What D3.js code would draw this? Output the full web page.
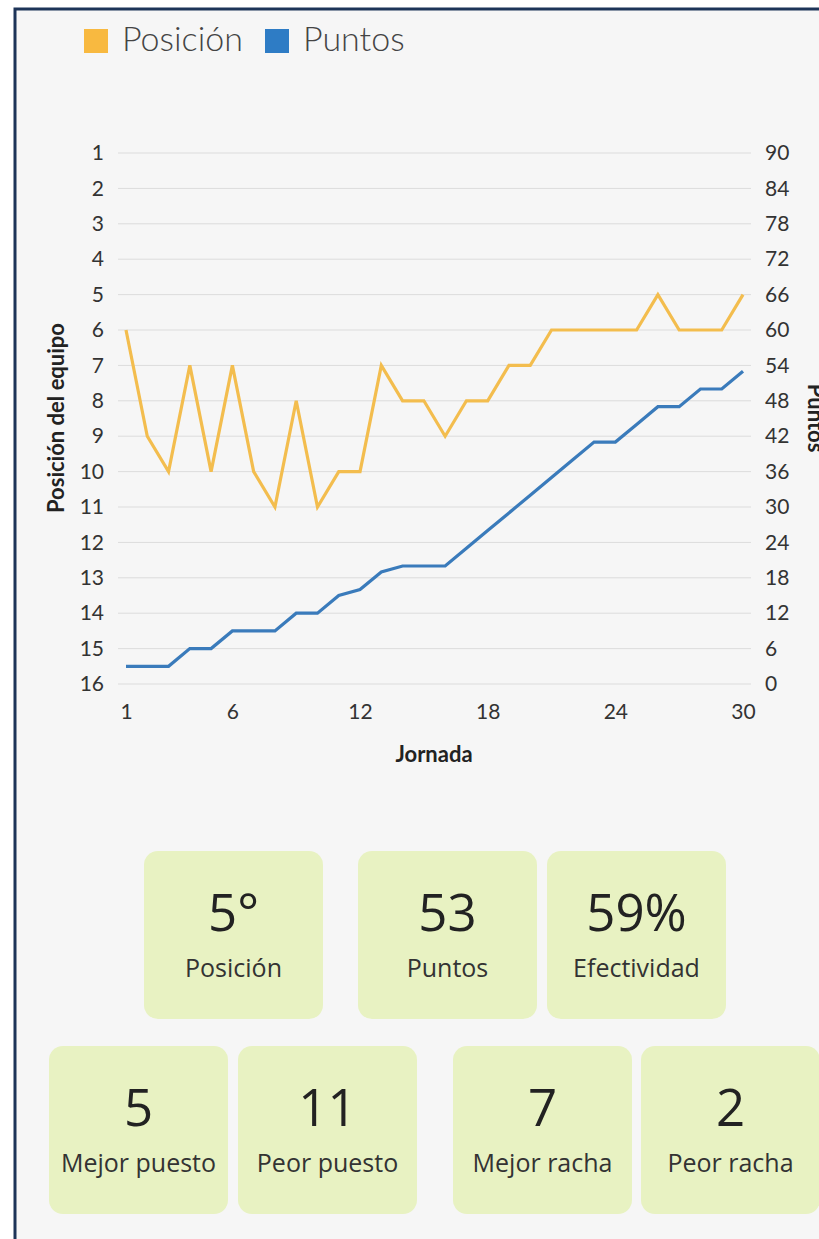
<!DOCTYPE html>
<html>
<head>
<meta charset="utf-8">
<script src="https://cdn.jsdelivr.net/npm/d3@7"></script>
<style>
  body { margin: 0; background: #fff; }
  svg { display: block; }
</style>
</head>
<body>
<script>
// data
var jornadas = d3.range(1, 31);
var posicion = [6, 9, 10, 7, 10, 7, 10, 11, 8, 11, 10, 10, 7, 8, 8, 9, 8, 8, 7, 7, 6, 6, 6, 6, 6, 5, 6, 6, 6, 5];
var puntos = [3, 3, 3, 6, 6, 9, 9, 9, 12, 12, 15, 16, 19, 20, 20, 20, 23, 26, 29, 32, 35, 38, 41, 41, 44, 47, 47, 50, 50, 53];
var posTicks = d3.range(1, 17);
var ptsTicks = d3.range(0, 91, 6);
var xTicks = [1, 6, 12, 18, 24, 30];
var legendNames = ["Posición", "Puntos"];
var cardValues = ["5°", "53", "59%", "5", "11", "7", "2"];
var cardLabels = ["Posición", "Puntos", "Efectividad", "Mejor puesto", "Peor puesto", "Mejor racha", "Peor racha"];

var width = 819, height = 1239;
var orange = "#f3bd4e", blue = "#3a7bbb";

var svg = d3.select("body").append("svg")
    .attr("width", width)
    .attr("height", height);

//panel with navy frame
svg.append("rect")
    .attr("x", 15).attr("y", 9)
    .attr("width", 830).attr("height", 1260)
    .attr("fill", "#f6f6f6")
    .attr("stroke", "#1d3458")
    .attr("stroke-width", 3);

//scales
var x = d3.scaleLinear().domain([1, 30]).range([126, 743]);
var yPos = d3.scaleLinear().domain([1, 16]).range([153, 684]);
var yPts = d3.scaleLinear().domain([0, 90]).range([684, 153]);

//grid
svg.append("g").selectAll("line")
    .data(posTicks)
    .enter().append("line")
    .attr("x1", 118).attr("x2", 751)
    .attr("y1", function(d){ return yPos(d); })
    .attr("y2", function(d){ return yPos(d); })
    .attr("stroke", "#dcdcdc")
    .attr("stroke-width", 1);

//axes
var leftAxis = svg.append("g")
    .attr("transform", "translate(118,0)")
    .call(d3.axisLeft(yPos).tickValues(posTicks).tickSize(0).tickPadding(14).tickFormat(d3.format("d")));
var rightAxis = svg.append("g")
    .attr("transform", "translate(752,0)")
    .call(d3.axisRight(yPts).tickValues(ptsTicks).tickSize(0).tickPadding(13).tickFormat(d3.format("d")));
var bottomAxis = svg.append("g")
    .attr("transform", "translate(0,684)")
    .call(d3.axisBottom(x).tickValues(xTicks).tickSize(0).tickPadding(20).tickFormat(d3.format("d")));

[leftAxis, rightAxis, bottomAxis].forEach(function(a){
    a.select(".domain").remove();
    a.selectAll("text")
        .attr("fill", "#333")
        .style("font-family", "Lato")
        .style("font-size", "21px");
});

//axis titles
svg.append("text")
    .attr("transform", "translate(64,418) rotate(-90)")
    .attr("text-anchor", "middle")
    .style("font-family", "Lato").style("font-weight", "bold").style("font-size", "22px")
    .attr("fill", "#222")
    .text("Posición del equipo");
svg.append("text")
    .attr("transform", "translate(808,418) rotate(90)")
    .attr("text-anchor", "middle")
    .style("font-family", "Lato").style("font-weight", "bold").style("font-size", "22px")
    .attr("fill", "#222")
    .text("Puntos");
svg.append("text")
    .attr("x", 434).attr("y", 762)
    .attr("text-anchor", "middle")
    .style("font-family", "Lato").style("font-weight", "bold").style("font-size", "22px")
    .attr("fill", "#222")
    .text("Jornada");

//lines
var posLine = d3.line()
    .x(function(d, i){ return x(jornadas[i]); })
    .y(function(d){ return yPos(d); });
var ptsLine = d3.line()
    .x(function(d, i){ return x(jornadas[i]); })
    .y(function(d){ return yPts(d); });

svg.append("path")
    .datum(posicion)
    .attr("d", posLine)
    .attr("fill", "none")
    .attr("stroke", orange)
    .attr("stroke-width", 3.2);
svg.append("path")
    .datum(puntos)
    .attr("d", ptsLine)
    .attr("fill", "none")
    .attr("stroke", blue)
    .attr("stroke-width", 3.2);

//legend
var legendX = [84, 265];
var legendColors = ["#f8b940", "#2e7cc5"];
var legend = svg.append("g").selectAll("g")
    .data(legendNames)
    .enter().append("g")
    .attr("transform", function(d, i){ return "translate(" + legendX[i] + ",29)"; });
legend.append("rect")
    .attr("width", 24).attr("height", 24)
    .attr("fill", function(d, i){ return legendColors[i]; });
legend.append("text")
    .attr("x", 38).attr("y", 22)
    .style("font-family", "Lato").style("font-weight", "300").style("font-size", "34px")
    .attr("fill", "#444")
    .text(function(d){ return d; });

//stat cards
var cardPos = [[144, 851], [358, 851], [547, 851], [49, 1046], [238, 1046], [453, 1046], [641, 1046]];
var cards = svg.append("g").selectAll("g")
    .data(cardValues)
    .enter().append("g")
    .attr("transform", function(d, i){ return "translate(" + cardPos[i][0] + "," + cardPos[i][1] + ")"; });
cards.append("rect")
    .attr("width", 179).attr("height", 168)
    .attr("rx", 14)
    .attr("fill", "#e8f2c2");
cards.append("text")
    .attr("x", 89.5).attr("y", 80)
    .attr("text-anchor", "middle")
    .style("font-family", "Open Sans").style("font-size", "51px")
    .attr("fill", "#222")
    .text(function(d){ return d; });
cards.append("text")
    .attr("x", 89.5).attr("y", 126)
    .attr("text-anchor", "middle")
    .style("font-family", "Open Sans").style("font-size", "25px")
    .attr("fill", "#333")
    .text(function(d, i){ return cardLabels[i]; });
</script>
</body>
</html>
